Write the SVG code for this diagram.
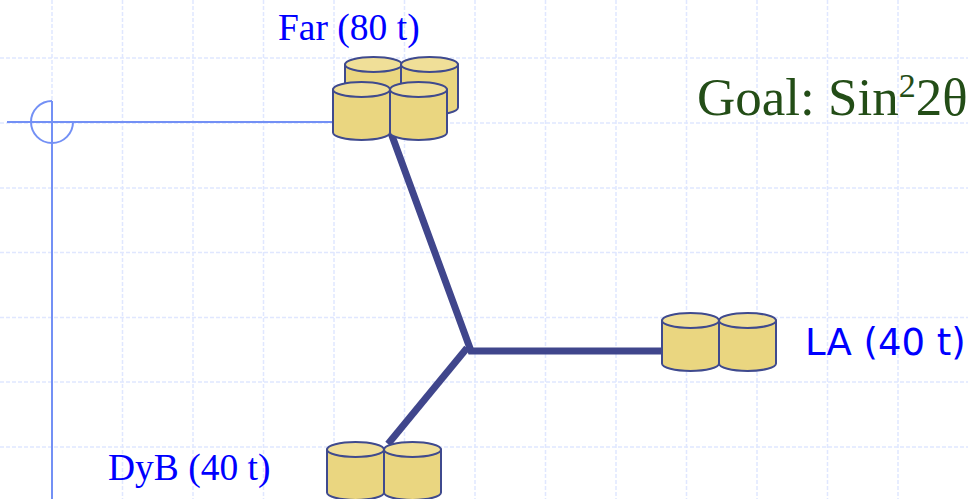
<svg xmlns="http://www.w3.org/2000/svg" xmlns:xlink="http://www.w3.org/1999/xlink" width="968" height="499" viewBox="0 0 968 499">
  <style>
    .grid line { stroke: #e0e7ff; stroke-width: 1.5; stroke-dasharray: 4 2; }
    .axis { stroke: #7390f5; stroke-width: 2; fill: none; }
    .link { stroke: #40468c; stroke-width: 7; fill: none; stroke-linecap: butt; stroke-linejoin: miter; }
    .cyl-body { fill: #ead680; stroke: #3f4a8e; stroke-width: 2; }
    .cyl-top { fill: #f0df98; stroke: #3f4a8e; stroke-width: 2; }
    .site { font-family: "Liberation Serif", "Times New Roman", serif; font-size: 37.5px; fill: #0000ff; }
    .site-alt { font-family: "DejaVu Sans", sans-serif; font-size: 37px; fill: #0000ff; }
    .goal { font-family: "Liberation Serif", "Times New Roman", serif; font-size: 53px; fill: #234d17; }
    .sup { font-size: 34px; }
  </style>
  <defs>
    <!-- one detector tank: 57 wide, elliptical lid -->
    <g id="cyl">
      <path class="cyl-body" d="M0,7.5 V50.5 A28.5,7.5 0 0,0 57,50.5 V7.5 Z"/>
      <ellipse class="cyl-top" cx="28.5" cy="7.5" rx="28.5" ry="7.5"/>
    </g>
  </defs>

  <rect width="968" height="499" fill="#ffffff"/>

  <!-- background grid -->
  <g class="grid">
    <line x1="52" y1="0" x2="52" y2="499"/>
    <line x1="122.5" y1="0" x2="122.5" y2="499"/>
    <line x1="193" y1="0" x2="193" y2="499"/>
    <line x1="263.5" y1="0" x2="263.5" y2="499"/>
    <line x1="334" y1="0" x2="334" y2="499"/>
    <line x1="404.5" y1="0" x2="404.5" y2="499"/>
    <line x1="475" y1="0" x2="475" y2="499"/>
    <line x1="545.5" y1="0" x2="545.5" y2="499"/>
    <line x1="616" y1="0" x2="616" y2="499"/>
    <line x1="686.5" y1="0" x2="686.5" y2="499"/>
    <line x1="757" y1="0" x2="757" y2="499"/>
    <line x1="827.5" y1="0" x2="827.5" y2="499"/>
    <line x1="898" y1="0" x2="898" y2="499"/>
    <line x1="0" y1="58" x2="968" y2="58"/>
    <line x1="0" y1="123" x2="968" y2="123"/>
    <line x1="0" y1="188" x2="968" y2="188"/>
    <line x1="0" y1="252.5" x2="968" y2="252.5"/>
    <line x1="0" y1="317.5" x2="968" y2="317.5"/>
    <line x1="0" y1="382" x2="968" y2="382"/>
    <line x1="0" y1="447" x2="968" y2="447"/>
  </g>

  <!-- reference axes with origin mark -->
  <g id="axes">
    <line class="axis" x1="7" y1="122" x2="334" y2="122"/>
    <line class="axis" x1="52" y1="101" x2="52" y2="499"/>
    <path class="axis" d="M52,101 A21,21 0 1,0 73,122"/>
  </g>

  <!-- baselines between the sites -->
  <g id="connectors">
    <polyline class="link" points="391,133 471,351 663,351"/>
    <line class="link" x1="467" y1="348" x2="388" y2="444"/>
  </g>

  <g id="far">
    <use xlink:href="#cyl" x="345" y="57"/>
    <use xlink:href="#cyl" x="401" y="57"/>
    <use xlink:href="#cyl" x="333" y="82"/>
    <use xlink:href="#cyl" x="390" y="82"/>
    <text class="site" x="278" y="40">Far (80 t)</text>
  </g>

  <g id="la">
    <use xlink:href="#cyl" x="662" y="313"/>
    <use xlink:href="#cyl" x="719" y="313"/>
    <text class="site-alt" x="805" y="355">LA (40 t)</text>
  </g>

  <g id="dyb">
    <use xlink:href="#cyl" x="327" y="442"/>
    <use xlink:href="#cyl" x="384" y="442"/>
    <text class="site" x="108" y="480">DyB (40 t)</text>
  </g>

  <g id="goal">
    <text class="goal" x="697" y="115">Goal: Sin<tspan class="sup" dy="-18">2</tspan><tspan dy="18">2θ</tspan></text>
  </g>
</svg>
